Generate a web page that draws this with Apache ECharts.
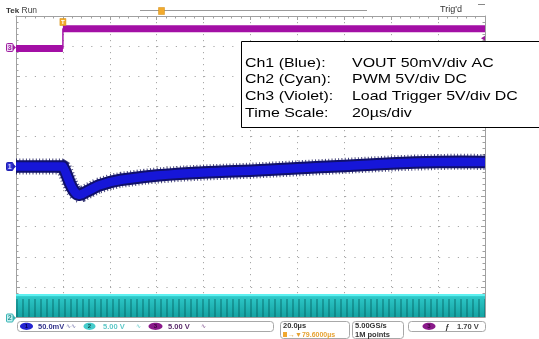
<!DOCTYPE html>
<html><head><meta charset="utf-8">
<script src="https://cdn.jsdelivr.net/npm/echarts@6/dist/echarts.min.js"></script>
<style>html,body{margin:0;padding:0;background:#fff}#c{width:539px;height:339px}</style>
</head><body><div id="c"></div>
<script>
// ---------------- data (read from the scope shot) ----------------
const ch1TimeUs = [-20, -10, 0, 1, 2, 3, 4, 5, 6, 7, 8, 10, 12, 15, 20, 25, 30, 35, 40, 45, 50, 60, 70, 80, 90, 100, 110, 120, 130, 140, 150, 160, 170, 180];
const ch1Mv     = [0, 0, 0, -8, -18, -28, -36, -42, -46, -47, -46, -42, -38, -32, -26, -22, -19.5, -17, -15, -13.5, -12, -10, -8.5, -7, -5, -3, -1, 1, 3, 5, 6.5, 7.5, 8, 7.5];
const ch2TimeUs = [-20, 180];
const ch2V      = [3.65, 3.65];
const ch3TimeUs = [-20, 0, 0, 180];
const ch3V      = [0, 0, 3.3, 3.3];
const trigTimeUs = 0;
const trigLevelV = 1.70;
const legendLabels = ['Ch1 (Blue):', 'Ch2 (Cyan):', 'Ch3 (Violet):', 'Time Scale:'];
const legendValues = ['VOUT 50mV/div AC', 'PWM 5V/div DC', 'Load Trigger 5V/div DC', '20\u00b5s/div'];
const statusCh = [
  {n: '1', scale: '50.0mV', sym: '\u223f\u223f'},
  {n: '2', scale: '5.00 V', sym: '\u223f'},
  {n: '3', scale: '5.00 V', sym: '\u223f'}
];
const timeBase = '20.0\u00b5s';
const trigDelay = '\u2192\u25bc79.6000\u00b5s';
const sampleRate = '5.00GS/s';
const recordLen = '1M points';
const trigReadout = '1.70 V';

// ---------------- chart ----------------
const chart = echarts.init(document.getElementById('c'), null, {renderer: 'canvas'});

const pc = document.createElement('canvas');
pc.width = 6; pc.height = 340;
const g = pc.getContext('2d');
const grad = g.createLinearGradient(0, 294, 0, 318);
grad.addColorStop(0, '#45dede');
grad.addColorStop(0.15, '#2cc6c6');
grad.addColorStop(1, '#14a0a0');
g.fillStyle = grad; g.fillRect(0, 0, 6, 340);
g.fillStyle = 'rgba(0,80,80,0.35)'; g.fillRect(4, 299, 2, 41);

const gridCol = '#a8a8a8';
const borderCol = '#a0a0a0';
const axLine = {show: true, onZero: false, lineStyle: {color: borderCol, width: 1}};
const ticks = {show: true, inside: true, length: 4, lineStyle: {color: borderCol}};
const minor = {show: true, splitNumber: 5, length: 2.5, lineStyle: {color: borderCol}};

const pairs = (xs, ys) => xs.map((x, i) => [x, ys[i]]);
// ch3: thick levels, gap at vertical edges
const ch3Pts = pairs(ch3TimeUs, ch3V);
const ch3Thick = [];
ch3Pts.forEach((p, i) => {
  if (i > 0 && p[0] === ch3Pts[i - 1][0]) ch3Thick.push(null);
  ch3Thick.push(p);
});
const ch1Pts = pairs(ch1TimeUs, ch1Mv);

const option = {
  animation: false,
  backgroundColor: '#fff',
  grid: {left: 16, top: 16, width: 469, height: 301, outerBoundsMode: 'none', containLabel: false},
  xAxis: [
    {type: 'value', min: -20, max: 180, interval: 20, position: 'bottom',
     axisLine: axLine, axisTick: ticks, minorTick: minor,
     axisLabel: {show: false}, splitLine: {show: true, lineStyle: {color: gridCol, width: 1, type: [1.2, 4.8]}}},
    {type: 'value', min: -20, max: 180, interval: 20, position: 'top',
     axisLine: axLine, axisTick: ticks, minorTick: minor,
     axisLabel: {show: false}, splitLine: {show: false}}
  ],
  yAxis: [
    {type: 'value', min: 0, max: 10, interval: 1, position: 'left',
     axisLine: axLine, axisTick: ticks, minorTick: minor,
     axisLabel: {show: false}, splitLine: {show: true, lineStyle: {color: gridCol, width: 1, type: [1.2, 8.2]}}},
    {type: 'value', min: 0, max: 10, interval: 1, position: 'right',
     axisLine: axLine, axisTick: ticks, minorTick: minor,
     axisLabel: {show: false}, splitLine: {show: false}},
    {type: 'value', min: -250, max: 250, show: false},        // ch1 50 mV/div, centred
    {type: 'value', min: 0, max: 50, show: false},            // ch2 5 V/div, zero at bottom
    {type: 'value', min: -44.6, max: 5.4, show: false}        // ch3 5 V/div
  ],
  series: [
    {type: 'line', name: 'ch2', xAxisIndex: 0, yAxisIndex: 3, data: pairs(ch2TimeUs, ch2V),
     showSymbol: false, symbol: 'none', lineStyle: {color: '#5ef0f0', width: 2},
     areaStyle: {color: {image: pc, repeat: 'repeat'}, opacity: 1}, z: 3},
    {type: 'line', name: 'ch3edge', xAxisIndex: 0, yAxisIndex: 4, data: ch3Pts,
     showSymbol: false, symbol: 'none', lineStyle: {color: '#a616a8', width: 1.5}, z: 4},
    {type: 'line', name: 'ch3', xAxisIndex: 0, yAxisIndex: 4, data: ch3Thick, connectNulls: false,
     showSymbol: false, symbol: 'none', lineStyle: {color: '#a30fa5', width: 7, cap: 'butt'}, z: 4},
    {type: 'line', name: 'ch1n', xAxisIndex: 0, yAxisIndex: 2, data: ch1Pts,
     showSymbol: false, symbol: 'none', lineStyle: {color: '#0a0a50', width: 16, type: [1, 2.3], cap: 'butt', opacity: 0.75}, z: 5},
    {type: 'line', name: 'ch1o', xAxisIndex: 0, yAxisIndex: 2, data: ch1Pts,
     showSymbol: false, symbol: 'none', lineStyle: {color: '#10106a', width: 12.5, join: 'round', cap: 'butt'}, z: 5},
    {type: 'line', name: 'ch1', xAxisIndex: 0, yAxisIndex: 2, data: ch1Pts,
     showSymbol: false, symbol: 'none', lineStyle: {color: '#1616d8', width: 8.5, join: 'round', cap: 'butt'}, z: 6}
  ]
};
chart.setOption(option);

const X = t => chart.convertToPixel({xAxisIndex: 0}, t);
const Yc1 = v => chart.convertToPixel({yAxisIndex: 2}, v);
const Yc2 = v => chart.convertToPixel({yAxisIndex: 3}, v);
const Yc3 = v => chart.convertToPixel({yAxisIndex: 4}, v);

const F = 'Liberation Sans, Arial, sans-serif';
function txt(x, y, s, fill, font, align, extra) {
  return Object.assign({type: 'text', x: x, y: y, z: 100,
    style: {text: s, fill: fill, font: font, align: align || 'left', textAlign: align || 'left',
            verticalAlign: 'middle', textVerticalAlign: 'middle'}}, extra || {});
}
function chMarker(y, label, fill, stroke, tc) {
  return [
    {type: 'rect', z: 100, shape: {x: 6.5, y: y - 4, width: 6.5, height: 8, r: 1}, style: {fill: fill, stroke: stroke, lineWidth: 1}},
    {type: 'polygon', z: 100, shape: {points: [[13, y - 3], [16, y], [13, y + 3]]}, style: {fill: stroke}},
    txt(9.8, y + 0.5, label, tc, 'bold 7px ' + F, 'center')
  ];
}
function ell(cx, cy, rx, fill, label, tc) {
  return [
    {type: 'ellipse', z: 100, shape: {cx: cx, cy: cy, rx: rx, ry: 3.6}, style: {fill: fill}},
    txt(cx, cy + 0.3, label, tc, 'bold 6px ' + F, 'center')
  ];
}
function box(x, y, w, h) {
  return {type: 'rect', z: 99, shape: {x: x + 0.5, y: y + 0.5, width: w, height: h, r: 3}, style: {fill: '#fff', stroke: '#a8a8a8', lineWidth: 1}};
}

const el = [];
// header
el.push(txt(6, 10.5, 'Tek', '#333', 'bold 8px ' + F));
el.push(txt(21.5, 10.5, 'Run', '#444', '8.5px ' + F));
el.push({type: 'line', z: 99, shape: {x1: 140, y1: 10.5, x2: 367, y2: 10.5}, style: {stroke: '#9a9a9a', lineWidth: 1}});
el.push({type: 'rect', z: 100, shape: {x: 158.5, y: 7.5, width: 6, height: 7}, style: {fill: '#f2aa2c', stroke: '#d08a10', lineWidth: 0.5}});
el.push(txt(440, 10, "Trig'd", '#333', '9px ' + F));
el.push({type: 'line', z: 99, shape: {x1: 478, y1: 4.5, x2: 485, y2: 4.5}, style: {stroke: '#888', lineWidth: 1}});
// trigger position marker
const tx = X(trigTimeUs);
el.push({type: 'rect', z: 100, shape: {x: tx - 3, y: 18.5, width: 6, height: 7}, style: {fill: '#f2aa2c', stroke: '#d08a10', lineWidth: 0.5}});
el.push(txt(tx, 22.3, 'T', '#fff', 'bold 6px ' + F, 'center'));
// trigger level arrow at right edge
const ty = Yc3(trigLevelV);
el.push({type: 'polygon', z: 100, shape: {points: [[485, ty - 2.5], [481, ty], [485, ty + 2.5]]}, style: {fill: '#9a1a9a'}});
// channel ground markers
el.push(...chMarker(Yc3(0) - 1, '3', '#ecd4f2', '#a020a0', '#a020a0'));
el.push(...chMarker(Yc1(0), '1', '#3232d6', '#2020b0', '#d8d8ff'));
el.push(...chMarker(Yc2(0) + 1, '2', '#c6f2f2', '#38b4b4', '#2a9090'));

// legend box
el.push({type: 'rect', z: 100, shape: {x: 241.5, y: 41.5, width: 320, height: 86}, style: {fill: '#fff', stroke: '#000', lineWidth: 1}});
const ly = [63, 79.7, 96.4, 113];
legendLabels.forEach((s, i) => {
  el.push(txt(245, ly[i], s, '#000', '13.5px ' + F, 'left', {scaleX: 1.18, z: 101}));
  el.push(txt(352, ly[i], legendValues[i], '#000', '13.5px ' + F, 'left', {scaleX: 1.18, z: 101}));
});

// status bar
const SF = 'bold 7.5px ' + F;
el.push(box(17, 321, 256, 10));
el.push(...ell(26.5, 326.3, 6.5, '#2424d0', statusCh[0].n, '#000050'));
el.push(txt(38, 326.5, statusCh[0].scale, '#34348c', SF));
el.push(txt(66, 326.5, statusCh[0].sym, '#7070a8', '6px DejaVu Sans'));
el.push(...ell(89.5, 326.3, 6, '#46cccc', statusCh[1].n, '#0a5050'));
el.push(txt(103, 326.5, statusCh[1].scale, '#5ec8c8', SF));
el.push(txt(136, 326.5, statusCh[1].sym, '#5ec8c8', '6px DejaVu Sans'));
el.push(...ell(155.5, 326.3, 7, '#8a1a8a', statusCh[2].n, '#3a003a'));
el.push(txt(168, 326.5, statusCh[2].scale, '#5a2a6a', SF));
el.push(txt(201, 326.5, statusCh[2].sym, '#7a4a8a', '6px DejaVu Sans'));

el.push(box(280, 321, 69, 17));
el.push(txt(283, 326.3, timeBase, '#333', SF));
el.push({type: 'rect', z: 100, shape: {x: 283, y: 332, width: 4, height: 5}, style: {fill: '#f0a830'}});
el.push(txt(288, 334.8, trigDelay, '#e6a232', 'bold 7px ' + F));
el.push(box(352, 321, 51, 17));
el.push(txt(355, 326.3, sampleRate, '#333', SF));
el.push(txt(355, 334.8, recordLen, '#333', SF));
el.push(box(408, 321, 77, 10));
el.push(...ell(429, 326.3, 6.5, '#8a1a8a', '3', '#3a003a'));
el.push(txt(445, 326.5, '\u0192', '#333', 'bold 8px ' + F));
el.push(txt(457, 326.5, trigReadout, '#444', SF));

chart.setOption({graphic: {elements: el}});
</script></body></html>
